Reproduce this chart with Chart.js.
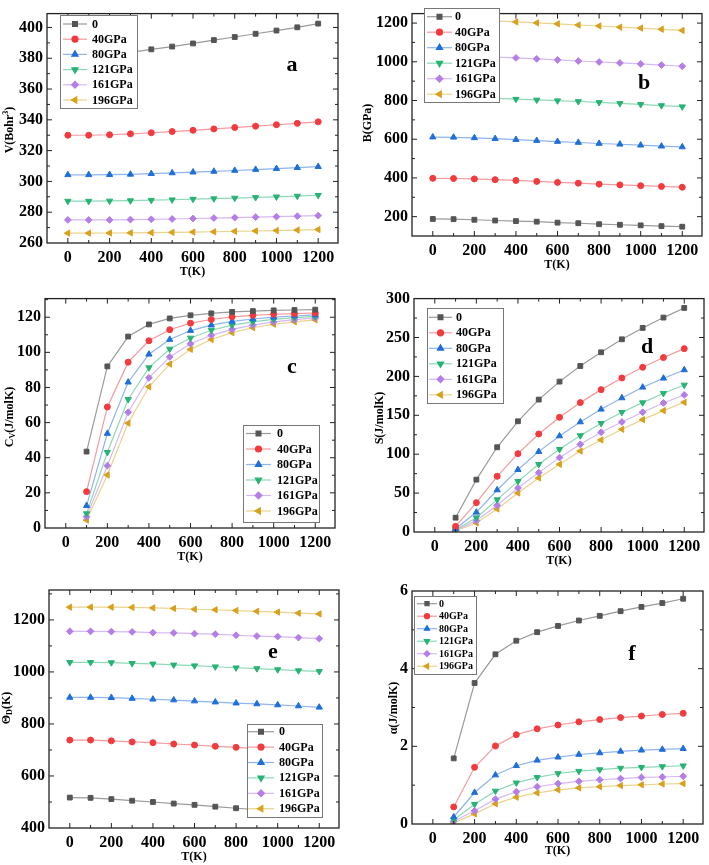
<!DOCTYPE html>
<html>
<head>
<meta charset="utf-8">
<script src="https://cdn.jsdelivr.net/npm/chart.js@4.4.0/dist/chart.umd.min.js"></script>
<style>
  body { margin:0; background:#fff; width:709px; height:865px; position:relative; overflow:hidden; }
  .p { position:absolute; }
</style>
</head>
<body>
<div class="p" style="left:0;top:0;width:355px;height:285px"><canvas id="ca"></canvas></div>
<div class="p" style="left:355px;top:0;width:354px;height:285px"><canvas id="cb"></canvas></div>
<div class="p" style="left:0;top:285px;width:355px;height:290px"><canvas id="cc"></canvas></div>
<div class="p" style="left:355px;top:285px;width:354px;height:290px"><canvas id="cd"></canvas></div>
<div class="p" style="left:0;top:575px;width:355px;height:290px"><canvas id="ce"></canvas></div>
<div class="p" style="left:355px;top:575px;width:354px;height:290px"><canvas id="cf"></canvas></div>
<script>
// ---- data ----
const temps   = [0,100,200,300,400,500,600,700,800,900,1000,1100,1200];
const tempsHi = [100,200,300,400,500,600,700,800,900,1000,1100,1200];
const pressures = ['0','40GPa','80GPa','121GPa','161GPa','196GPa'];
const xTicks = [0,200,400,600,800,1000,1200];

// a: V (Bohr^3)
const volume = [
  [378.5,380.2,381.9,383.8,385.8,387.6,389.6,391.8,393.8,395.9,398.0,400.1,402.5],
  [330.0,330.0,330.3,330.9,331.6,332.4,333.2,334.1,335.0,335.9,336.8,337.7,338.7],
  [304.3,304.3,304.4,304.6,305.0,305.5,306.0,306.5,307.1,307.7,308.3,308.9,309.6],
  [287.2,287.2,287.3,287.5,287.8,288.1,288.5,288.8,289.2,289.6,290.0,290.5,291.0],
  [275.0,275.0,275.0,275.2,275.4,275.6,275.9,276.2,276.5,276.8,277.1,277.4,277.8],
  [266.4,266.4,266.5,266.6,266.7,266.9,267.1,267.3,267.6,267.8,268.1,268.4,268.7]
];
const volumeTicks = [260,280,300,320,340,360,380,400];

// b: B (GPa)
const bulk = [
  [188,187,184,180,177,174,169,166,161,158,155,151,148],
  [398,397,395,391,387,382,377,373,368,364,360,356,352],
  [611,610,607,603,598,593,588,583,578,574,569,564,560],
  [817,816,814,811,807,803,799,795,790,785,780,774,768],
  [1031,1030,1028,1024,1020,1015,1010,1004,999,994,989,983,977],
  [1216,1216,1215,1211,1206,1201,1196,1190,1185,1179,1174,1168,1162]
];
const bulkTicks = [200,400,600,800,1000,1200];

// c: Cv (J/molK)
const heatCv = [
  [43.5,92.0,109.0,115.9,119.3,121.1,122.2,123.0,123.5,123.9,124.1,124.3],
  [20.7,68.9,94.4,106.6,112.9,116.6,118.7,120.2,121.1,121.7,122.0,122.4],
  [12.7,53.8,83.0,98.9,107.3,112.4,115.5,117.6,119.0,120.0,120.7,121.3],
  [8.2,43.1,73.2,91.3,101.9,108.2,112.6,115.5,117.4,118.8,119.8,120.5],
  [6.4,35.5,65.9,85.5,97.4,104.9,109.7,113.1,115.5,117.3,118.6,119.6],
  [4.5,30.2,59.7,80.4,93.3,101.7,107.3,111.2,114.0,116.0,117.4,118.5]
];
const heatCvTicks = [0,20,40,60,80,100,120];

// d: S (J/molK)
const entropy = [
  [18.4,67.3,108.9,142.3,170.2,193.3,213.4,231.0,247.7,262.3,275.6,288.0],
  [7.3,37.7,71.6,100.7,126.0,147.4,166.3,183.0,198.0,211.7,224.2,235.7],
  [4.3,25.3,54.0,80.1,103.3,123.4,141.4,157.7,172.3,186.0,197.6,208.3],
  [3.0,18.4,41.6,65.1,87.0,106.3,123.9,139.7,153.9,166.3,178.3,189.0],
  [2.1,14.6,34.3,56.6,76.3,95.6,112.7,128.2,141.4,153.9,165.9,176.2],
  [1.3,11.6,29.6,50.1,69.4,87.0,104.1,118.3,132.0,144.4,156.0,166.7]
];
const entropyTicks = [0,50,100,150,200,250,300];

// e: Debye temperature (K)
const debye = [
  [517,516,511,505,500,494,489,482,476,471,466,461,456],
  [738,738,735,731,728,723,719,714,710,705,701,697,692],
  [902,902,901,898,895,892,888,884,880,877,873,869,864],
  [1037,1037,1036,1033,1031,1027,1024,1020,1016,1013,1009,1005,1002],
  [1156,1156,1155,1154,1151,1150,1147,1145,1141,1138,1136,1132,1128],
  [1249,1249,1249,1248,1246,1244,1241,1239,1236,1233,1230,1226,1223]
];
const debyeTicks = [400,600,800,1000,1200];

// f: alpha
const alpha = [
  [1.69,3.63,4.37,4.72,4.94,5.10,5.24,5.36,5.48,5.59,5.69,5.80],
  [0.44,1.46,2.01,2.30,2.45,2.55,2.63,2.69,2.74,2.78,2.82,2.85],
  [0.18,0.81,1.26,1.50,1.64,1.72,1.79,1.83,1.87,1.90,1.92,1.94],
  [0.11,0.51,0.85,1.06,1.20,1.30,1.36,1.40,1.44,1.46,1.48,1.50],
  [0.07,0.34,0.64,0.83,0.96,1.04,1.10,1.14,1.17,1.20,1.21,1.23],
  [0.03,0.26,0.52,0.69,0.80,0.88,0.93,0.96,0.99,1.01,1.03,1.04]
];
const alphaTicks = [0,2,4,6];

// ---- styles ----
const markerColors = ['#555555','#f23a3f','#1f6fd8','#27b374','#b47ee6','#d8a11c'];
const lineColors   = ['#9a9a9a','#f59a9c','#8fb4ee','#8fd8b6','#d6b8f3','#ecd28f'];
const pointStyles  = ['rect','circle','triangle','triangle','rectRot','triangle'];
const pointRots    = [0,0,0,180,0,270];
const pointRadii   = [3.4,3.0,3.6,3.6,3.4,3.6];
const SERIF = '"Liberation Serif", "Times New Roman", serif';

Chart.defaults.font.family = SERIF;
Chart.defaults.font.weight = 'bold';
Chart.defaults.color = '#000';

// frame with inward major/minor ticks on four sides, legend box, panel letter, axis titles
const framePlugin = {
  id: 'frame',
  afterDatasetsDraw(chart) {
    const o = chart.config.options.plugins.frame;
    const ctx = chart.ctx, a = chart.chartArea;
    const xs = chart.scales.x, ys = chart.scales.y;
    ctx.save();
    ctx.strokeStyle = '#222'; ctx.lineWidth = 1.3;
    ctx.strokeRect(a.left, a.top, a.right - a.left, a.bottom - a.top);
    ctx.lineWidth = 1;
    const seg = (x1,y1,x2,y2) => { ctx.beginPath(); ctx.moveTo(x1,y1); ctx.lineTo(x2,y2); ctx.stroke(); };
    const xStep = (xTicks[1]-xTicks[0]) / 2;
    for (let v = xTicks[0]; v <= xTicks[xTicks.length-1] + 1e-9; v += xStep) {
      const px = xs.getPixelForValue(v);
      const len = (Math.round((v - xTicks[0]) / xStep) % 2 === 0) ? 5 : 3;
      seg(px, a.bottom, px, a.bottom - len);
      seg(px, a.top, px, a.top + len);
    }
    const yt = o.yTicks, yStep = (yt[1]-yt[0]) / 2;
    for (let v = yt[0] - yStep; v <= yt[yt.length-1] + yStep + 1e-9; v += yStep) {
      const py = ys.getPixelForValue(v);
      if (py < a.top + 1 || py > a.bottom - 1) continue;
      const len = (Math.round((v - yt[0]) / yStep) % 2 === 0) ? 5 : 3;
      seg(a.left, py, a.left + len, py);
      seg(a.right, py, a.right - len, py);
    }
    ctx.restore();
  },
  afterDraw(chart) {
    const o = chart.config.options.plugins.frame;
    const ctx = chart.ctx, a = chart.chartArea;
    ctx.save();
    // legend
    const L = o.legend;
    ctx.fillStyle = '#fff'; ctx.strokeStyle = '#777'; ctx.lineWidth = 1;
    ctx.fillRect(L.x, L.y, L.w, L.h); ctx.strokeRect(L.x + 0.5, L.y + 0.5, L.w, L.h);
    ctx.font = 'bold ' + L.font + 'px ' + SERIF;
    ctx.textBaseline = 'middle'; ctx.textAlign = 'left';
    chart.data.datasets.forEach((ds, i) => {
      const cy = L.y + L.first + i * L.row;
      ctx.strokeStyle = ds.borderColor; ctx.lineWidth = 1.2;
      ctx.beginPath(); ctx.moveTo(L.x + L.l0, cy); ctx.lineTo(L.x + L.l1, cy); ctx.stroke();
      ctx.fillStyle = ds.pointBackgroundColor; ctx.strokeStyle = ds.pointBackgroundColor;
      Chart.helpers.drawPoint(ctx, {pointStyle: ds.pointStyle, rotation: ds.pointRotation,
        radius: ds.pointRadius * L.ms, borderWidth: 1}, L.x + (L.l0 + L.l1) / 2, cy);
      ctx.fillStyle = '#000';
      ctx.fillText(ds.label, L.x + L.tx, cy + 0.5);
    });
    // panel letter
    ctx.font = 'bold 22px ' + SERIF;
    ctx.textAlign = 'center'; ctx.textBaseline = 'middle';
    ctx.fillText(o.letter[0], o.letter[1], o.letter[2]);
    // x title
    ctx.font = 'bold 12px ' + SERIF;
    ctx.fillText('T(K)', (a.left + a.right) / 2, o.xTitleY);
    // y title with sub/superscripts
    ctx.translate(o.yTitle[0], o.yTitle[1]);
    ctx.rotate(-Math.PI / 2);
    const parts = o.yTitle[2];
    const fontOf = p => 'bold ' + (p.s ? 8 : 12) + 'px ' + SERIF;
    let w = 0;
    parts.forEach(p => { ctx.font = fontOf(p); w += ctx.measureText(p.t).width; });
    let x = -w / 2;
    ctx.textAlign = 'left'; ctx.textBaseline = 'middle';
    parts.forEach(p => {
      ctx.font = fontOf(p);
      ctx.fillText(p.t, x, p.s === 'sup' ? -4 : (p.s === 'sub' ? 3 : 0));
      x += ctx.measureText(p.t).width;
    });
    ctx.restore();
  }
};

function makePanel(cfg) {
  const W = cfg.size[0], H = cfg.size[1];
  const [pl, pt, pr, pb] = cfg.plot;
  const datasets = cfg.values.map((vals, k) => ({
    label: pressures[k],
    data: cfg.x.map((t, i) => ({x: t, y: vals[i]})),
    borderColor: lineColors[k],
    backgroundColor: markerColors[k],
    pointBackgroundColor: markerColors[k],
    pointBorderColor: markerColors[k],
    pointBorderWidth: 1,
    pointStyle: pointStyles[k],
    pointRotation: pointRots[k],
    pointRadius: pointRadii[k],
    borderWidth: 1.2,
    tension: 0
  }));
  return new Chart(document.getElementById(cfg.id), {
    type: 'line',
    data: { datasets },
    plugins: [framePlugin],
    options: {
      responsive: true, maintainAspectRatio: false, animation: false,
      layout: { padding: { left: 0, top: pt, right: W - pr, bottom: 0 } },
      plugins: { legend: { display: false }, tooltip: { enabled: false },
        frame: { yTicks: cfg.yTicks, legend: cfg.legend, letter: cfg.letter, yTitle: cfg.yTitle, xTitleY: cfg.xTitleY } },
      scales: {
        x: {
          type: 'linear', min: -100, max: 1295,
          grid: { display: false, drawTicks: false }, border: { display: false },
          ticks: { font: { size: 16, weight: 'bold' }, padding: 5, maxRotation: 0, autoSkip: false,
                   callback: v => String(v) },
          afterBuildTicks: s => { s.ticks = xTicks.map(v => ({value: v})); },
          afterFit: s => { s.height = H - pb; }
        },
        y: {
          type: 'linear', min: cfg.yRange[0], max: cfg.yRange[1],
          grid: { display: false, drawTicks: false }, border: { display: false },
          ticks: { font: { size: 16, weight: 'bold' }, padding: 4, autoSkip: false,
                   callback: v => String(v) },
          afterBuildTicks: s => { s.ticks = cfg.yTicks.map(v => ({value: v})); },
          afterFit: s => { s.width = pl; }
        }
      }
    }
  });
}

makePanel({ id: 'ca', size: [355, 285], plot: [47, 10, 338, 243], x: temps, values: volume,
  yRange: [260, 409], yTicks: volumeTicks,
  legend: { x: 60, y: 15, w: 77, h: 93, first: 9, row: 15.2, l0: 3, l1: 27, tx: 32, font: 12, ms: 1 },
  letter: ['a', 292, 65], xTitleY: 272,
  yTitle: [10, 130, [{t: 'V(Bohr'}, {t: '3', s: 'sup'}, {t: ')'}]] });

makePanel({ id: 'cb', size: [354, 285], plot: [57, 3, 347, 236], x: temps, values: bulk,
  yRange: [100, 1249], yTicks: bulkTicks,
  legend: { x: 69, y: 8, w: 75, h: 94, first: 8.7, row: 15.5, l0: 3, l1: 28, tx: 31, font: 12, ms: 1 },
  letter: ['b', 289, 83], xTitleY: 265,
  yTitle: [13, 123, [{t: 'B(GPa)'}]] });

makePanel({ id: 'cc', size: [355, 290], plot: [45, 10, 335, 243], x: tempsHi, values: heatCv,
  yRange: [0, 130.6], yTicks: heatCvTicks,
  legend: { x: 243, y: 140, w: 76, h: 97, first: 8.5, row: 15.5, l0: 3, l1: 28, tx: 34, font: 12, ms: 1 },
  letter: ['c', 292, 82], xTitleY: 272,
  yTitle: [10, 132, [{t: 'C'}, {t: 'V', s: 'sub'}, {t: '(J/molK)'}]] });

makePanel({ id: 'cd', size: [354, 290], plot: [59, 13, 350, 247], x: tempsHi, values: entropy,
  yRange: [0, 300], yTicks: entropyTicks,
  legend: { x: 72, y: 23, w: 76, h: 95, first: 9.3, row: 15.5, l0: 2, l1: 25, tx: 29, font: 12, ms: 1 },
  letter: ['d', 292, 62], xTitleY: 276,
  yTitle: [25, 133, [{t: 'S(J/molK)'}]] });

makePanel({ id: 'ce', size: [355, 290], plot: [49, 15, 339, 253], x: temps, values: debye,
  yRange: [400, 1315], yTicks: debyeTicks,
  legend: { x: 247, y: 149, w: 75, h: 93, first: 7.7, row: 15.4, l0: 1, l1: 27, tx: 32, font: 12, ms: 1 },
  letter: ['e', 273, 77], xTitleY: 282,
  yTitle: [7, 133, [{t: 'Θ'}, {t: 'D', s: 'sub'}, {t: '(K)'}]] });

makePanel({ id: 'cf', size: [354, 290], plot: [57, 16, 348, 249], x: tempsHi, values: alpha,
  yRange: [0, 6], yTicks: alphaTicks,
  legend: { x: 59, y: 21, w: 62, h: 78, first: 7.7, row: 12.5, l0: 3, l1: 23, tx: 25, font: 10, ms: 0.85 },
  letter: ['f', 277, 79], xTitleY: 276,
  yTitle: [39, 133, [{t: 'α(J/molK)'}]] });
</script>
</body>
</html>
